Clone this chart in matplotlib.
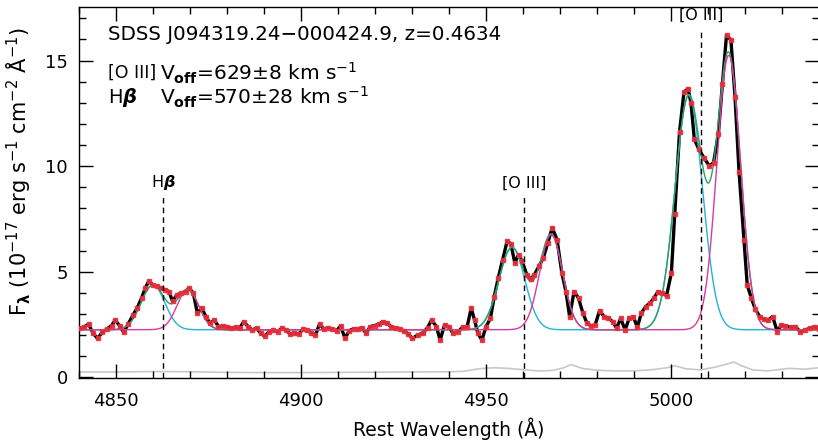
import numpy as np
import matplotlib
matplotlib.use("Agg")
import matplotlib.pyplot as plt
from matplotlib.ticker import MultipleLocator

# ---- observed spectrum (rest frame) ----
wave = [
    4840.0, 4841.3, 4842.6, 4843.8, 4845.0, 4846.3, 4847.6, 4848.8, 4849.8, 4851.0,
    4852.1, 4853.3, 4854.6, 4855.7, 4856.9, 4857.9, 4858.8, 4860.0, 4861.0, 4862.2,
    4863.3, 4864.3, 4865.3, 4866.4, 4867.6, 4868.8, 4869.8, 4870.9, 4872.0, 4873.2,
    4874.3, 4875.4, 4876.6, 4877.7, 4878.8, 4880.0, 4881.1, 4882.3, 4883.4, 4884.5,
    4885.7, 4886.8, 4888.0, 4889.1, 4890.2, 4891.4, 4892.5, 4893.7, 4894.8, 4895.9,
    4897.1, 4898.2, 4899.4, 4900.5, 4901.6, 4902.8, 4903.9, 4905.0, 4906.2, 4907.3,
    4908.5, 4909.6, 4910.7, 4911.9, 4913.0, 4914.2, 4915.3, 4916.4, 4917.6, 4918.7,
    4919.9, 4921.0, 4922.1, 4923.3, 4924.4, 4925.6, 4926.7, 4927.8, 4929.0, 4930.1,
    4931.5, 4932.9, 4934.2, 4935.3, 4936.6, 4937.6, 4938.8, 4939.9, 4941.1, 4942.4,
    4943.7, 4944.9, 4946.0, 4946.9, 4947.8, 4948.9, 4950.0, 4951.2, 4952.2, 4953.3,
    4954.5, 4955.7, 4956.7, 4957.8, 4958.8, 4959.8, 4961.0, 4962.1, 4963.1, 4964.3,
    4965.5, 4966.7, 4967.9, 4969.2, 4970.5, 4971.6, 4972.6, 4973.8, 4975.0, 4976.2,
    4977.3, 4978.4, 4979.5, 4980.7, 4981.9, 4983.1, 4984.3, 4985.3, 4986.4, 4987.6,
    4988.7, 4989.8, 4990.9, 4992.0, 4993.2, 4994.3, 4995.4, 4996.5, 4997.7, 4998.8,
    5000.1, 5001.0, 5002.3, 5003.5, 5004.6, 5005.4, 5006.3, 5007.5, 5009.0, 5010.4,
    5011.5, 5012.8, 5013.9, 5015.0, 5016.2, 5017.3, 5018.4, 5019.7, 5020.6, 5021.7,
    5022.8, 5024.0, 5025.1, 5026.2, 5027.5, 5028.7, 5029.8, 5030.9, 5032.3, 5033.6,
    5034.9, 5036.3, 5037.6, 5038.8, 5040.0,
]
flux = [
    2.32, 2.37, 2.52, 2.08, 1.84, 2.13, 2.29, 2.45, 2.71, 2.43,
    2.13, 2.52, 2.95, 3.27, 3.75, 4.22, 4.54, 4.38, 4.30, 4.22,
    4.14, 4.06, 3.59, 3.90, 3.98, 4.06, 4.22, 3.98, 3.03, 3.27,
    2.87, 2.56, 2.71, 2.40, 2.43, 2.40, 2.32, 2.37, 2.32, 2.63,
    2.40, 2.24, 2.32, 2.08, 1.95, 2.16, 2.24, 2.16, 2.32, 2.24,
    2.05, 2.10, 2.05, 2.28, 2.24, 2.10, 2.00, 2.52, 2.28, 2.35,
    2.28, 2.20, 2.43, 1.84, 2.20, 2.30, 2.28, 2.35, 2.08, 2.40,
    2.45, 2.50, 2.63, 2.55, 2.40, 2.32, 2.28, 2.20, 2.05, 1.84,
    2.00, 2.08, 2.35, 2.71, 2.40, 1.76, 2.48, 2.40, 2.08, 2.16,
    2.37, 2.40, 3.27, 2.71, 2.08, 1.76, 2.40, 2.79, 3.80, 4.70,
    5.57, 6.44, 6.33, 5.41, 5.81, 5.49, 4.86, 4.65, 4.86, 5.25,
    5.65, 6.36, 7.08, 6.52, 4.94, 4.06, 2.87, 4.06, 3.75, 3.03,
    2.56, 2.43, 2.48, 3.16, 2.87, 2.79, 2.63, 2.32, 2.79, 2.24,
    2.79, 2.87, 2.37, 3.05, 3.35, 3.51, 3.75, 4.06, 3.98, 3.86,
    4.94, 7.71, 11.6, 13.5, 13.67, 13.0, 11.29, 10.8, 10.37, 10.0,
    10.17, 11.52, 13.9, 16.2, 15.97, 13.27, 9.70, 6.52, 4.38, 3.75,
    3.22, 2.87, 2.75, 2.71, 2.87, 2.16, 2.48, 2.43, 2.37, 2.40,
    2.16, 2.24, 2.32, 2.40, 2.30,
]

# ---- flux error spectrum ----
err_wave = [4840, 4850, 4860, 4870, 4880, 4890, 4900, 4910, 4920, 4930,
            4940, 4944, 4948, 4952, 4956, 4960, 4964, 4968, 4971, 4973,
            4976, 4980, 4985, 4990, 4995, 4999, 5001, 5004, 5008, 5012,
            5015, 5017, 5019, 5022, 5026, 5029, 5032, 5036, 5040]
err = [0.25, 0.25, 0.27, 0.26, 0.23, 0.22, 0.22, 0.23, 0.24, 0.25,
       0.26, 0.28, 0.40, 0.45, 0.42, 0.36, 0.30, 0.32, 0.45, 0.60,
       0.42, 0.33, 0.30, 0.30, 0.36, 0.45, 0.55, 0.40, 0.35, 0.48,
       0.62, 0.72, 0.55, 0.35, 0.30, 0.36, 0.42, 0.38, 0.45]

# ---- Gaussian fit components: Hb, [O III]4959, [O III]5007 ----
continuum = 2.25
blue_center = [4860.0, 4957.0, 5004.8]
blue_amp = [2.12, 3.90, 11.1]
blue_sigma = [3.2, 3.5, 3.7]
red_center = [4869.4, 4967.6, 5015.6]
red_amp = [1.90, 4.50, 13.0]
red_sigma = [2.9, 3.1, 3.2]

# ---- reference line positions (vacuum rest wavelengths) ----
line_wave = [4862.68, 4960.30, 5008.24]
line_label = [r"H$\boldsymbol{\beta}$", "[O III]", "[O III]"]
line_label_y = [9.2, 9.2, 17.15]
line_top = [8.6, 8.6, 16.5]

model_x = np.linspace(4840, 5040, 2000)


def gauss_sum(centers, amps, sigmas):
    total = np.zeros_like(model_x)
    for c, a, s in zip(centers, amps, sigmas):
        total += a * np.exp(-0.5 * ((model_x - c) / s) ** 2)
    return total


blue_model = continuum + gauss_sum(blue_center, blue_amp, blue_sigma)
red_model = continuum + gauss_sum(red_center, red_amp, red_sigma)
total_model = blue_model + red_model - continuum

plt.rcParams["mathtext.fontset"] = "dejavusans"
fig = plt.figure(figsize=(8.18, 4.4), dpi=100)
ax = fig.add_axes([79 / 818, 1 - 378.3 / 440, 740 / 818, 371.6 / 440])

ax.plot(err_wave, err, color="#c8c8c8", lw=1.2, zorder=1)
ax.plot(wave, flux, color="black", lw=2.4, zorder=2)
ax.plot(model_x, blue_model, color="#22b4d4", lw=1.0, zorder=3)
ax.plot(model_x, red_model, color="#d83aa0", lw=1.0, zorder=4)
ax.plot(model_x, total_model, color="#2ea060", lw=1.0, zorder=3.5)
ax.plot(wave, flux, ls="none", marker="s", ms=3.4, mec="#e8303c",
        mfc="#e8303c", alpha=0.9, zorder=5)

for lw_, lab, ly, lt in zip(line_wave, line_label, line_label_y, line_top):
    ax.plot([lw_, lw_], [-0.05, lt], color="black", lw=1.0,
            dashes=(4, 3), zorder=6)
    ax.text(lw_, ly, lab, ha="center", va="center", fontsize=11.5)

ax.text(4847.8, 16.25, "SDSS J094319.24\u2212000424.9, z=0.4634",
        ha="left", va="center", fontsize=14.3)
ax.text(4847.8, 14.4, "[O III]", ha="left", va="center", fontsize=12.5)
ax.text(4862.0, 14.4,
        r"V$_{\mathbf{off}}$=629$\pm$8 km s$^{-1}$",
        ha="left", va="center", fontsize=14.5)
ax.text(4847.8, 13.25, r"H$\boldsymbol{\beta}$", ha="left", va="center",
        fontsize=14)
ax.text(4862.0, 13.25,
        r"V$_{\mathbf{off}}$=570$\pm$28 km s$^{-1}$",
        ha="left", va="center", fontsize=14.5)

ax.set_xlim(4840, 5040)
ax.set_ylim(-0.05, 17.55)
ax.xaxis.set_major_locator(MultipleLocator(50))
ax.xaxis.set_minor_locator(MultipleLocator(10))
ax.yaxis.set_major_locator(MultipleLocator(5))
ax.yaxis.set_minor_locator(MultipleLocator(1))
ax.tick_params(which="both", direction="in", top=True, right=True,
               labelsize=13, width=1.0)
ax.tick_params(which="major", length=10)
ax.tick_params(axis="x", which="major", pad=10)
ax.tick_params(axis="y", which="major", pad=8)
ax.tick_params(which="minor", length=5)
for sp in ax.spines.values():
    sp.set_linewidth(1.0)

ax.set_xlabel("Rest Wavelength (Å)", fontsize=13.5, labelpad=5)
ax.set_ylabel(r"F$_{\mathbf{\lambda}}$ (10$^{-17}$ erg s$^{-1}$ cm$^{-2}$ Å$^{-1}$)",
              fontsize=15)
ax.yaxis.set_label_coords(-0.0615, 0.555)

fig.savefig("out.png", dpi=100)
